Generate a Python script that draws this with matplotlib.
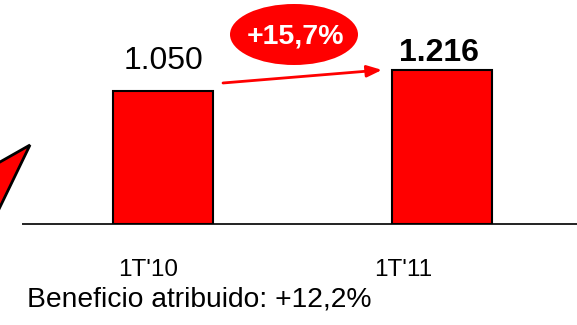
import matplotlib
matplotlib.use("Agg")
import matplotlib.pyplot as plt
from matplotlib.patches import Ellipse, Polygon

plt.rcParams['font.family'] = ['Liberation Sans', 'DejaVu Sans']

categories = ["1T'10", "1T'11"]
values = [1050, 1216]
value_labels = ["1.050", "1.216"]
growth_label = "+15,7%"
footer = "Beneficio atribuido: +12,2%"

RED = "#ff0000"
W, H = 577, 325
fig = plt.figure(figsize=(W / 100, H / 100), dpi=100)

# axes: baseline at pixel row 224, spanning from x=23 to the right edge
ax = fig.add_axes([23 / W, 1 - 224 / H, 1 - 23 / W, 224 / H])
x = list(range(len(categories)))
ax.bar(x, values, width=0.358, color=RED, edgecolor="black", linewidth=1.5, zorder=3)
ax.set_xlim(-0.502, 1.484)
ax.set_ylim(0, 1768)
for s in ["top", "right", "left"]:
    ax.spines[s].set_visible(False)
ax.spines["bottom"].set_linewidth(1.4)
ax.spines["bottom"].set_color("#222222")
ax.set_yticks([])
ax.set_xticks([])
ax.set_facecolor("none")

# category labels below the baseline, nudged left of the bar centres
cat_shift = [-15, -39]
for xi, lab, dx in zip(x, categories, cat_shift):
    ax.annotate(lab, (xi, 0), xytext=(dx, -46), textcoords="offset pixels",
                ha="center", va="center", fontsize=17.5, annotation_clip=False)

# value labels above each bar
ax.annotate(value_labels[0], (x[0], values[0]), xytext=(0, 16), textcoords="offset points",
            ha="center", va="baseline", fontsize=23)
ax.annotate(value_labels[1], (x[1] - 0.01, values[1]), xytext=(0, 6.5), textcoords="offset points",
            ha="center", va="baseline", fontsize=23, fontweight="bold")

# growth arrow between bars
ax.annotate("", xy=(0.785, values[1]), xytext=(0.215, 1113),
            arrowprops=dict(arrowstyle="-|>,head_length=0.9,head_width=0.35",
                            color=RED, lw=2, shrinkA=0, shrinkB=0))

# growth badge
fig.add_artist(Ellipse((294 / W, 1 - 34.5 / H), 128 / W, 61 / H,
                       transform=fig.transFigure, facecolor=RED, edgecolor="none"))
fig.text(295 / W, 1 - 37 / H, growth_label, ha="center", va="center",
         color="white", fontsize=20.5, fontweight="bold")

# pointer shape at the left edge
tri = [(30, 145), (-30, 179), (-30, 269)]
fig.add_artist(Polygon([(px / W, 1 - py / H) for px, py in tri], closed=True,
                       transform=fig.transFigure, facecolor=RED, edgecolor="black",
                       linewidth=2, joinstyle="miter"))

fig.text(27 / W, 1 - 299 / H, footer, ha="left", va="center", fontsize=20.3)

fig.savefig("out.png", dpi=100)
